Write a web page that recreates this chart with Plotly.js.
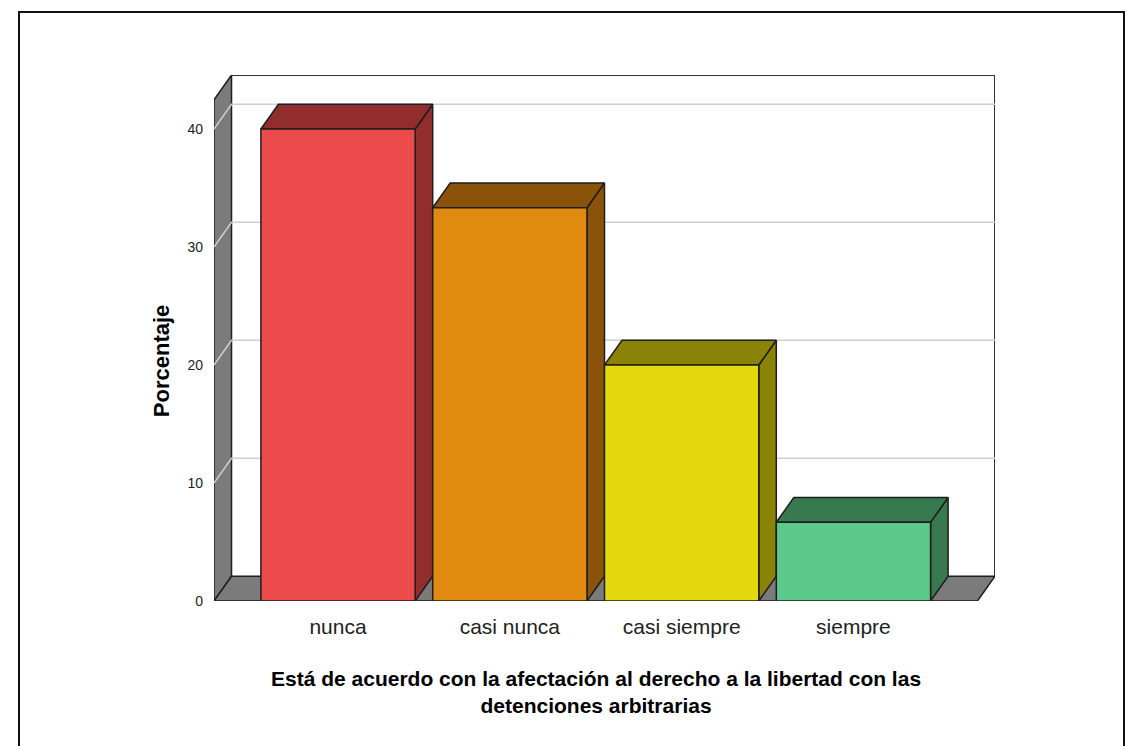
<!DOCTYPE html>
<html>
<head>
<meta charset="utf-8">
<script src="https://cdn.plot.ly/plotly-3.0.1.min.js"></script>
<style>
  html, body { margin: 0; padding: 0; background: #ffffff; }
  #wrap { position: relative; width: 1132px; height: 746px; overflow: hidden; }
  #chart { position: absolute; left: 0; top: 0; width: 1132px; height: 746px; }
  #frame { position: absolute; left: 18px; top: 11px; width: 1103px; height: 760px;
           border: 2px solid #111; pointer-events: none; }
</style>
</head>
<body>
<div id="wrap">
  <div id="chart"></div>
  <div id="frame"></div>
</div>
<script>
// ---- data ----
const categories = ["nunca", "casi nunca", "casi siempre", "siempre"];
const percentages = [40.0, 33.33, 20.0, 6.67];
const frontColors = ["#EC4B4C", "#E08A0F", "#E4D80F", "#5CC98A"];
const sideColors  = ["#922D2E", "#8B520A", "#8B8307", "#377A50"];
const yTicks = [0, 10, 20, 30, 40];
const xTitle = "Está de acuerdo con la afectación al derecho a la libertad con las<br>detenciones arbitrarias";
const yTitle = "Porcentaje";

// ---- 3D geometry (in axis units) ----
const DX = 0.102, DY = 2.1;        // depth offset
const HALF = 0.449;                // half bar width
const XL = -0.722, XR = 3.722;     // front plane edges
const YMAX = 44.58;                // top of back wall
const OUT = "#1E1E1E";
const GREY = "#7B7B7B";

const traces = [];
function poly(xs, ys, fill, lineColor, lineWidth) {
  traces.push({
    type: "scatter", mode: "lines", x: xs.concat([xs[0]]), y: ys.concat([ys[0]]),
    fill: "toself", fillcolor: fill,
    line: { color: lineColor, width: lineWidth },
    hoverinfo: "skip", showlegend: false
  });
}
function line(xs, ys, color, width) {
  traces.push({
    type: "scatter", mode: "lines", x: xs, y: ys,
    line: { color: color, width: width }, connectgaps: false,
    hoverinfo: "skip", showlegend: false
  });
}

// back wall
poly([XL + DX, XR + DX, XR + DX, XL + DX], [DY, DY, YMAX, YMAX], "#ffffff", "rgba(0,0,0,0)", 0);
line([XL + DX, XR + DX, XR + DX], [YMAX, YMAX, DY], "#333333", 2);
// left side panel
poly([XL, XL + DX, XL + DX, XL], [0, DY, YMAX, YMAX - DY], GREY, OUT, 1.5);
// floor
poly([XL, XR, XR + DX, XL + DX], [0, 0, DY, DY], GREY, OUT, 1.5);
// grid lines (on panel and back wall)
(function () {
  const gx = [], gy = [];
  yTicks.slice(1).forEach(v => {
    gx.push(XL, XL + DX, XR + DX, null);
    gy.push(v, v + DY, v + DY, null);
  });
  line(gx, gy, "#CFCFCF", 1.5);
})();

// bars
percentages.forEach((v, i) => {
  const l = i - HALF, r = i + HALF;
  // side face
  poly([r, r + DX, r + DX, r], [0, DY, v + DY, v], sideColors[i], OUT, 1.5);
  // top face
  poly([l, r, r + DX, l + DX], [v, v, v + DY, v + DY], sideColors[i], OUT, 1.5);
  // front face
  poly([l, r, r, l], [0, 0, v, v], frontColors[i], OUT, 1.5);
});

const layout = {
  width: 1132, height: 746,
  margin: { l: 214, r: 137, t: 75, b: 145 },
  paper_bgcolor: "#ffffff", plot_bgcolor: "rgba(0,0,0,0)",
  showlegend: false,
  xaxis: {
    range: [XL, XR + DX], autorange: false,
    tickmode: "array", tickvals: categories.map((c, i) => i), ticktext: categories,
    showgrid: false, zeroline: false, showline: false, ticks: "",
    ticklabelstandoff: 11,
    tickfont: { family: "Liberation Sans, Arial, sans-serif", size: 21, color: "#222222" },
    fixedrange: true
  },
  yaxis: {
    range: [0, YMAX], autorange: false,
    tickmode: "array", tickvals: yTicks, ticktext: yTicks.map(String),
    showgrid: false, zeroline: false, showline: false, ticks: "",
    ticklabelstandoff: 10,
    tickfont: { family: "Liberation Sans Narrow, Liberation Sans, Arial, sans-serif", size: 14, color: "#222222" },
    fixedrange: true
  },
  annotations: [
    {
      text: xTitle, xref: "x", x: (XL + XR) / 2, yref: "paper", y: -0.122,
      xanchor: "center", yanchor: "top", showarrow: false, align: "center",
      font: { family: "Liberation Sans, Arial, sans-serif", size: 21, color: "#000000", weight: "bold" }
    },
    {
      text: yTitle, xref: "paper", x: -0.068, yref: "y", y: 20.4,
      xanchor: "center", yanchor: "middle", textangle: -90, showarrow: false,
      font: { family: "Liberation Sans, Arial, sans-serif", size: 22, color: "#000000", weight: "bold" }
    }
  ]
};

Plotly.newPlot("chart", traces, layout, { displayModeBar: false, staticPlot: true });
</script>
</body>
</html>
